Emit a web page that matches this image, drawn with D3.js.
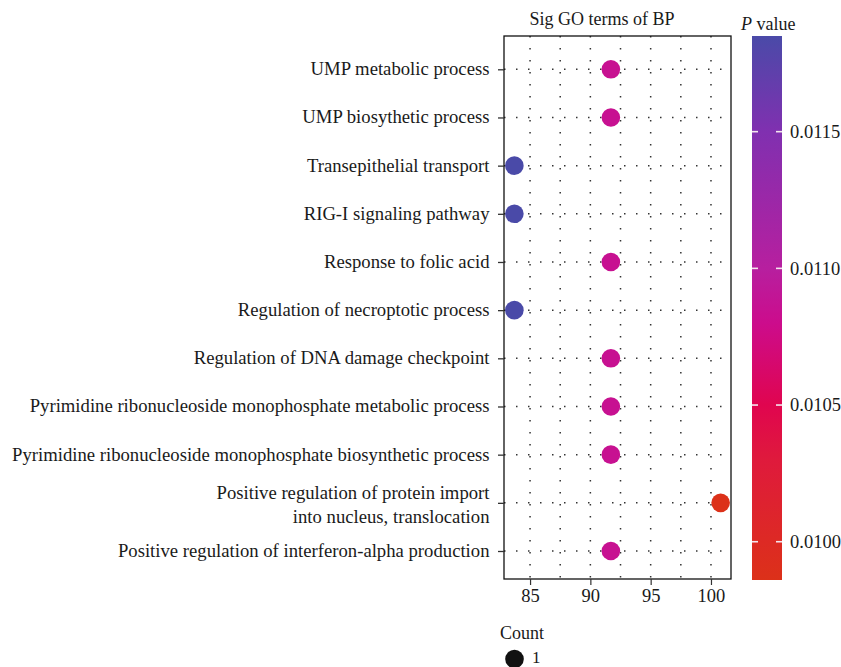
<html>
<head>
<meta charset="utf-8">
<script src="https://cdn.jsdelivr.net/npm/d3@7"></script>
<style>
  body { margin: 0; background: #fff; }
  text { font-family: "Liberation Serif", "Times New Roman", serif; fill: #1a1a1a; }
</style>
</head>
<body>
<div id="chartContainer"></div>
<script type="text/javascript">
  // GO terms, top to bottom as drawn
  var terms = [
    "UMP metabolic process",
    "UMP biosythetic process",
    "Transepithelial transport",
    "RIG-I signaling pathway",
    "Response to folic acid",
    "Regulation of necroptotic process",
    "Regulation of DNA damage checkpoint",
    "Pyrimidine ribonucleoside monophosphate metabolic process",
    "Pyrimidine ribonucleoside monophosphate biosynthetic process",
    "Positive regulation of protein import\ninto nucleus, translocation",
    "Positive regulation of interferon-alpha production"
  ];
  var xValues = [91.7, 91.7, 83.7, 83.7, 91.7, 83.7, 91.7, 91.7, 91.7, 100.8, 91.7];
  var pValues = [0.01085, 0.01085, 0.01185, 0.01185, 0.01085, 0.01185, 0.01085, 0.01085, 0.01085, 0.00986, 0.01085];
  var counts = [1, 1, 1, 1, 1, 1, 1, 1, 1, 1, 1];
  var xTicks = [85, 90, 95, 100];
  var xMinor = [87.5, 92.5, 97.5];
  var pTicks = [0.0100, 0.0105, 0.0110, 0.0115];

  var svg = d3.select("#chartContainer").append("svg")
    .attr("width", 841)
    .attr("height", 667);

  var panel = { left: 504, right: 731, top: 36, bottom: 579 };

  var x = d3.scaleLinear()
    .domain([82.84, 101.66])
    .range([panel.left, panel.right]);

  var y = d3.scalePoint()
    .domain(terms)
    .range([69.3, 551]);

  var pMin = d3.min(pValues), pMax = d3.max(pValues);
  var colorStops = [pMin, 0.0103, 0.0105, 0.0108, 0.0110, 0.0115, pMax];
  var color = d3.scaleLinear()
    .domain(colorStops)
    .range(["#dc3119", "#df1a3c", "#e0054f", "#cc0c8c", "#b71f9f", "#8030b0", "#4a4aa8"]);

  // grid lines, dotted
  var grid = svg.append("g");
  grid.selectAll("line.vgrid")
    .data(xTicks.concat(xMinor))
    .enter().append("line")
      .attr("x1", function (d) { return x(d); })
      .attr("x2", function (d) { return x(d); })
      .attr("y1", panel.top)
      .attr("y2", panel.bottom)
      .attr("stroke", "#333")
      .attr("stroke-width", 1.5)
      .attr("stroke-dasharray", "1.5,10.5");
  grid.selectAll("line.hgrid")
    .data(terms)
    .enter().append("line")
      .attr("x1", panel.left)
      .attr("x2", panel.right)
      .attr("y1", function (d) { return y(d); })
      .attr("y2", function (d) { return y(d); })
      .attr("stroke", "#333")
      .attr("stroke-width", 1.5)
      .attr("stroke-dasharray", "1.5,10.5");

  // points
  svg.selectAll("circle.pt")
    .data(terms)
    .enter().append("circle")
      .attr("cx", function (d, i) { return x(xValues[i]); })
      .attr("cy", function (d) { return y(d); })
      .attr("r", 9.3)
      .attr("fill", function (d, i) { return color(pValues[i]); });

  // panel border
  svg.append("rect")
    .attr("x", panel.left)
    .attr("y", panel.top)
    .attr("width", panel.right - panel.left)
    .attr("height", panel.bottom - panel.top)
    .attr("fill", "none")
    .attr("stroke", "#111")
    .attr("stroke-width", 1.3);

  // x axis
  var xAxis = svg.append("g")
    .attr("transform", "translate(0," + panel.bottom + ")")
    .call(d3.axisBottom(x).tickValues(xTicks).tickSize(6).tickPadding(4));
  xAxis.select(".domain").remove();
  xAxis.selectAll("line").attr("stroke", "#333").attr("stroke-width", 1.2);
  xAxis.selectAll("text")
    .style("font-family", "Liberation Serif, serif")
    .style("font-size", "18.5px")
    .attr("fill", "#1a1a1a");

  // y axis
  var yAxis = svg.append("g")
    .attr("transform", "translate(" + panel.left + ",0)")
    .call(d3.axisLeft(y).tickSize(6).tickFormat(""));
  yAxis.select(".domain").remove();
  yAxis.selectAll("line").attr("stroke", "#333").attr("stroke-width", 1.3);

  // y labels, multi-line aware
  svg.selectAll("text.ylab")
    .data(terms)
    .enter().append("text")
      .attr("class", "ylab")
      .attr("text-anchor", "end")
      .style("font-size", "18.7px")
      .each(function (d) {
        var lines = d.split("\n");
        var t = d3.select(this);
        var y0 = lines.length > 1 ? y(d) - 3.5 : y(d) + 6;
        lines.forEach(function (ln, k) {
          t.append("tspan")
            .attr("x", 489.5)
            .attr("y", y0 + k * 23.5)
            .text(ln);
        });
      });

  // title
  svg.append("text")
    .attr("x", 602)
    .attr("y", 25)
    .attr("text-anchor", "middle")
    .style("font-size", "18px")
    .text("Sig GO terms of BP");

  // colour bar legend
  var barX = 752, barW = 30, barTop = 36, barBottom = 580;
  var pScale = d3.scaleLinear().domain([pMin, pMax]).range([barBottom, barTop]);

  var grad = svg.append("defs").append("linearGradient")
    .attr("id", "pgrad")
    .attr("x1", 0).attr("y1", 1).attr("x2", 0).attr("y2", 0);
  grad.selectAll("stop")
    .data(colorStops)
    .enter().append("stop")
      .attr("offset", function (d) { return (d - pMin) / (pMax - pMin); })
      .attr("stop-color", function (d) { return color(d); });

  svg.append("rect")
    .attr("x", barX)
    .attr("y", barTop)
    .attr("width", barW)
    .attr("height", barBottom - barTop)
    .attr("fill", "url(#pgrad)");

  var pt = svg.selectAll("g.ptick")
    .data(pTicks)
    .enter().append("g")
      .attr("transform", function (d) { return "translate(0," + pScale(d) + ")"; });
  pt.append("line")
    .attr("x1", barX).attr("x2", barX + 6)
    .attr("stroke", "#f4e6ee").attr("stroke-width", 1.6);
  pt.append("line")
    .attr("x1", barX + barW - 6).attr("x2", barX + barW)
    .attr("stroke", "#f4e6ee").attr("stroke-width", 1.6);
  pt.append("text")
    .attr("x", 790)
    .attr("dy", "0.34em")
    .style("font-size", "18.5px")
    .text(function (d) { return d3.format(".4f")(d); });

  var ptitle = svg.append("text")
    .attr("x", 741)
    .attr("y", 30)
    .style("font-size", "18px");
  ptitle.append("tspan").style("font-style", "italic").text("P");
  ptitle.append("tspan").text(" value");

  // size legend
  svg.append("text")
    .attr("x", 500)
    .attr("y", 639)
    .style("font-size", "18px")
    .text("Count");
  svg.append("circle")
    .attr("cx", 514.5)
    .attr("cy", 659)
    .attr("r", 9.3)
    .attr("fill", "#111");
  svg.append("text")
    .attr("x", 532)
    .attr("y", 663)
    .style("font-size", "17px")
    .text(d3.max(counts));
</script>
</body>
</html>
